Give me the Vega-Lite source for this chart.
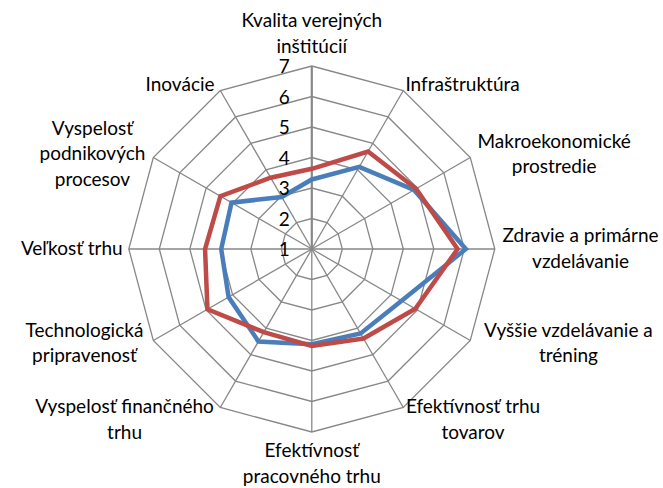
{
  "$schema": "https://vega.github.io/schema/vega-lite/v6.json",
  "width": 663,
  "height": 488,
  "autosize": {"type": "none"},
  "padding": 0,
  "background": "white",
  "config": {"view": {"stroke": null}, "text": {"font": "Lato", "fontSize": 19, "color": "#000000"}},
  "datasets": {
    "cats": [
      {"i": 0, "name": "Kvalita verejných\ninštitúcií"},
      {"i": 1, "name": "Infraštruktúra"},
      {"i": 2, "name": "Makroekonomické\nprostredie"},
      {"i": 3, "name": "Zdravie a primárne\nvzdelávanie"},
      {"i": 4, "name": "Vyššie vzdelávanie a\ntréning"},
      {"i": 5, "name": "Efektívnosť trhu\ntovarov"},
      {"i": 6, "name": "Efektívnosť\npracovného trhu"},
      {"i": 7, "name": "Vyspelosť finančného\ntrhu"},
      {"i": 8, "name": "Technologická\npripravenosť"},
      {"i": 9, "name": "Veľkosť trhu"},
      {"i": 10, "name": "Vyspelosť\npodnikových\nprocesov"},
      {"i": 11, "name": "Inovácie"}
    ],
    "scores": [
      {"i": 0, "s": "Séria 1", "v": 3.28}, {"i": 0, "s": "Séria 2", "v": 3.63},
      {"i": 1, "s": "Séria 1", "v": 4.11}, {"i": 1, "s": "Séria 2", "v": 4.69},
      {"i": 2, "s": "Séria 1", "v": 4.87}, {"i": 2, "s": "Séria 2", "v": 4.95},
      {"i": 3, "s": "Séria 1", "v": 6.05}, {"i": 3, "s": "Séria 2", "v": 5.78},
      {"i": 4, "s": "Séria 1", "v": 4.40}, {"i": 4, "s": "Séria 2", "v": 4.92},
      {"i": 5, "s": "Séria 1", "v": 4.20}, {"i": 5, "s": "Séria 2", "v": 4.39},
      {"i": 6, "s": "Séria 1", "v": 4.12}, {"i": 6, "s": "Séria 2", "v": 4.18},
      {"i": 7, "s": "Séria 1", "v": 4.50}, {"i": 7, "s": "Séria 2", "v": 4.15},
      {"i": 8, "s": "Séria 1", "v": 4.15}, {"i": 8, "s": "Séria 2", "v": 4.95},
      {"i": 9, "s": "Séria 1", "v": 3.97}, {"i": 9, "s": "Séria 2", "v": 4.50},
      {"i": 10, "s": "Séria 1", "v": 4.04}, {"i": 10, "s": "Séria 2", "v": 4.46},
      {"i": 11, "s": "Séria 1", "v": 2.97}, {"i": 11, "s": "Séria 2", "v": 3.70}
    ]
  },
  "encoding": {
    "x": {"field": "x", "type": "quantitative", "scale": {"domain": [-1.70383, 1.91913], "nice": false, "zero": false}, "axis": null},
    "y": {"field": "y", "type": "quantitative", "scale": {"domain": [-1.30601, 1.36066], "nice": false, "zero": false}, "axis": null}
  },
  "layer": [
    {
      "data": {"values": [
        {"lvl": 2, "i": [0,1,2,3,4,5,6,7,8,9,10,11]},
        {"lvl": 3, "i": [0,1,2,3,4,5,6,7,8,9,10,11]},
        {"lvl": 4, "i": [0,1,2,3,4,5,6,7,8,9,10,11]},
        {"lvl": 5, "i": [0,1,2,3,4,5,6,7,8,9,10,11]},
        {"lvl": 6, "i": [0,1,2,3,4,5,6,7,8,9,10,11]},
        {"lvl": 7, "i": [0,1,2,3,4,5,6,7,8,9,10,11]}
      ]},
      "transform": [
        {"flatten": ["i"]},
        {"calculate": "datum.i * PI / 6", "as": "a"},
        {"calculate": "(datum.lvl - 1) / 6", "as": "f"},
        {"calculate": "datum.f * sin(datum.a)", "as": "x"},
        {"calculate": "datum.f * cos(datum.a)", "as": "y"}
      ],
      "mark": {"type": "line", "interpolate": "linear-closed", "stroke": "#878787", "strokeWidth": 1.3},
      "encoding": {"detail": {"field": "lvl"}, "order": {"field": "i", "type": "quantitative"}}
    },
    {
      "data": {"name": "cats"},
      "transform": [
        {"calculate": "datum.i * PI / 6", "as": "a"},
        {"calculate": "sin(datum.a)", "as": "x"},
        {"calculate": "cos(datum.a)", "as": "y"},
        {"calculate": "0", "as": "x0"},
        {"calculate": "0", "as": "y0"}
      ],
      "mark": {"type": "rule", "stroke": "#878787"},
      "encoding": {
        "x2": {"field": "x0"},
        "y2": {"field": "y0"},
        "strokeWidth": {"condition": {"test": "datum.i == 0", "value": 2.2}, "value": 1.3}
      }
    },
    {
      "data": {"name": "scores"},
      "transform": [
        {"filter": "datum.s == 'Séria 1'"},
        {"calculate": "datum.i * PI / 6", "as": "a"},
        {"calculate": "(datum.v - 1) / 6", "as": "f"},
        {"calculate": "datum.f * sin(datum.a)", "as": "x"},
        {"calculate": "datum.f * cos(datum.a)", "as": "y"}
      ],
      "mark": {"type": "line", "interpolate": "linear-closed", "stroke": "#4A7EBB", "strokeWidth": 4.5},
      "encoding": {"order": {"field": "i", "type": "quantitative"}}
    },
    {
      "data": {"name": "scores"},
      "transform": [
        {"filter": "datum.s == 'Séria 2'"},
        {"calculate": "datum.i * PI / 6", "as": "a"},
        {"calculate": "(datum.v - 1) / 6", "as": "f"},
        {"calculate": "datum.f * sin(datum.a)", "as": "x"},
        {"calculate": "datum.f * cos(datum.a)", "as": "y"}
      ],
      "mark": {"type": "line", "interpolate": "linear-closed", "stroke": "#BE4B48", "strokeWidth": 4.5},
      "encoding": {"order": {"field": "i", "type": "quantitative"}}
    },
    {
      "data": {"values": [{"v": 1}, {"v": 2}, {"v": 3}, {"v": 4}, {"v": 5}, {"v": 6}, {"v": 7}]},
      "transform": [
        {"calculate": "0", "as": "x"},
        {"calculate": "(datum.v - 1) / 6", "as": "y"}
      ],
      "mark": {"type": "text", "align": "right", "baseline": "middle", "dx": -22, "dy": 1},
      "encoding": {"text": {"field": "v", "type": "quantitative"}}
    },
    {
      "data": {"name": "cats"},
      "transform": [
        {"calculate": "datum.i * PI / 6", "as": "a"},
        {"calculate": "sin(datum.a) > 0.1 ? 1 : (sin(datum.a) < -0.1 ? -1 : 0)", "as": "side"},
        {"calculate": "split(datum.name, '\\n')", "as": "line"},
        {"calculate": "length(datum.line)", "as": "n"},
        {"flatten": ["line"]},
        {"window": [{"op": "row_number", "as": "k"}], "groupby": ["i"]},
        {"calculate": "length(replace(datum.line, regexp('[^iljtfrťíľI ]', 'g'), ''))", "as": "nn"},
        {"calculate": "length(replace(datum.line, regexp('[^mMwW]', 'g'), ''))", "as": "nw"},
        {"calculate": "5.5 * datum.nn + 15 * datum.nw + 10.5 * (length(datum.line) - datum.nn - datum.nw)", "as": "w"},
        {"joinaggregate": [{"op": "max", "field": "w", "as": "W"}], "groupby": ["i"]},
        {"calculate": "1.0355 * sin(datum.a) + datum.side * datum.W / 2 / 183", "as": "x"},
        {"calculate": "1.0355 * cos(datum.a) + ((datum.i == 0 ? datum.n * 25.5 / 2 : (datum.i == 6 ? -datum.n * 25.5 / 2 : ((datum.i == 5 || datum.i == 7) ? -7 : 0))) + ((datum.n - 1) / 2 - (datum.k - 1)) * 25.5) / 183", "as": "y"}
      ],
      "mark": {"type": "text", "align": "center", "baseline": "middle"},
      "encoding": {"text": {"field": "line", "type": "nominal"}}
    }
  ]
}
